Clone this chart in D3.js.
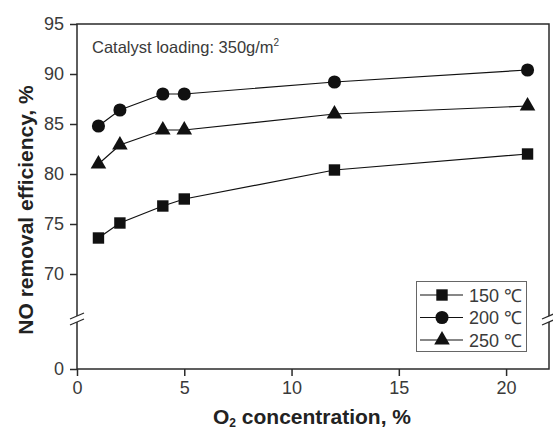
<!DOCTYPE html>
<html>
<head>
<meta charset="utf-8">
<script src="https://cdn.jsdelivr.net/npm/d3@7"></script>
<style>
  html, body { margin: 0; padding: 0; background: #fff; }
  svg { display: block; font-family: "Liberation Sans", Arial, sans-serif; }
</style>
</head>
<body>
<svg id="chart" width="553" height="432"></svg>
<script>
// O2 concentration (%) at each measurement
const o2 = [1, 2, 4, 5, 12, 21];
// NO removal efficiency (%) per reaction temperature
const eff150 = [73.6, 75.1, 76.8, 77.5, 80.4, 82.0];
const eff200 = [84.8, 86.4, 88.0, 88.0, 89.2, 90.4];
const eff250 = [81.0, 82.9, 84.4, 84.4, 86.0, 86.8];
const seriesNames = ["150 ℃", "200 ℃", "250 ℃"];
const symbolTypes = [d3.symbolSquare, d3.symbolCircle, d3.symbolTriangle];
const xTicks = [0, 5, 10, 15, 20];
const yTicks = [0, 70, 75, 80, 85, 90, 95];

const svg = d3.select("#chart");
const plotL = 77, plotR = 549, plotT = 24, plotB = 369;
const ink = "#2a2a2a";

const x = d3.scaleLinear().domain([0, 22]).range([plotL, plotR]);
// broken y axis: compressed segment 0–65, full-scale segment 65–95
const y = d3.scaleLinear().domain([0, 65, 95]).range([plotB, 324, plotT]);

// frame
svg.append("rect")
  .attr("x", plotL).attr("y", plotT)
  .attr("width", plotR - plotL).attr("height", plotB - plotT)
  .attr("fill", "none").attr("stroke", ink).attr("stroke-width", 1.5);

// axes
const xAxis = svg.append("g")
  .attr("transform", `translate(0,${plotB})`)
  .call(d3.axisBottom(x).tickValues(xTicks).tickSize(7).tickPadding(5));
const yAxis = svg.append("g")
  .attr("transform", `translate(${plotL},0)`)
  .call(d3.axisLeft(y).tickValues(yTicks).tickSize(7).tickPadding(6));
[xAxis, yAxis].forEach(g => {
  g.select(".domain").remove();
  g.selectAll(".tick line").attr("stroke", ink).attr("stroke-width", 1.5);
  g.selectAll(".tick text")
    .attr("fill", "#3a3a3a").style("font-size", "18px")
    .style("font-family", "'Liberation Sans', Arial, sans-serif");
});

// axis break marks
const breakY = 319;
[plotL, plotR].forEach(bx => {
  svg.append("rect").attr("x", bx - 3).attr("y", breakY - 3)
    .attr("width", 6).attr("height", 6).attr("fill", "#fff");
  [-3, 3].forEach(off => {
    svg.append("line")
      .attr("x1", bx - 7).attr("y1", breakY + off + 3)
      .attr("x2", bx + 7).attr("y2", breakY + off - 3)
      .attr("stroke", ink).attr("stroke-width", 1.3);
  });
});

// series lines and markers
const allSeries = [eff150, eff200, eff250];
const line = d3.line().x((d, i) => x(o2[i])).y(d => y(d));
const symSizes = [130, 135, 105];

allSeries.forEach((vals, k) => {
  svg.append("path").datum(vals)
    .attr("d", line).attr("fill", "none")
    .attr("stroke", "#111").attr("stroke-width", 1.2);
  svg.append("g").selectAll("path").data(vals).join("path")
    .attr("transform", (d, i) => `translate(${x(o2[i])},${y(d)})`)
    .attr("d", d3.symbol().type(symbolTypes[k]).size(symSizes[k]))
    .attr("fill", "#111");
});

// annotation
svg.append("text").attr("x", 92).attr("y", 53)
  .attr("fill", "#3a3a3a").style("font-size", "16.5px")
  .text("Catalyst loading: 350g/m")
  .append("tspan").attr("dy", -7).style("font-size", "10px").text("2");

// legend
const lg = svg.append("g");
lg.append("rect").attr("x", 416.5).attr("y", 281.5)
  .attr("width", 110).attr("height", 70)
  .attr("fill", "#fff").attr("stroke", "#666").attr("stroke-width", 1);
seriesNames.forEach((name, k) => {
  const ly = 295 + k * 22.5;
  lg.append("line").attr("x1", 420).attr("x2", 463)
    .attr("y1", ly).attr("y2", ly).attr("stroke", "#111").attr("stroke-width", 1.2);
  lg.append("path").attr("transform", `translate(442,${ly})`)
    .attr("d", d3.symbol().type(symbolTypes[k]).size(symSizes[k])).attr("fill", "#111");
  lg.append("text").attr("x", 469).attr("y", ly + 6.5)
    .attr("fill", "#3a3a3a").style("font-size", "18px").text(name);
});

// axis titles
svg.append("text")
  .attr("transform", "translate(33,210) rotate(-90)")
  .attr("text-anchor", "middle").attr("fill", "#222")
  .style("font-size", "21px").style("font-weight", "bold")
  .text("NO removal efficiency, %");
const xt = svg.append("text").attr("x", 312).attr("y", 424)
  .attr("text-anchor", "middle").attr("fill", "#222")
  .style("font-size", "21px").style("font-weight", "bold");
xt.append("tspan").text("O");
xt.append("tspan").attr("dy", 3).style("font-size", "12px").text("2");
xt.append("tspan").attr("dy", -3).text(" concentration, %");
</script>
</body>
</html>
